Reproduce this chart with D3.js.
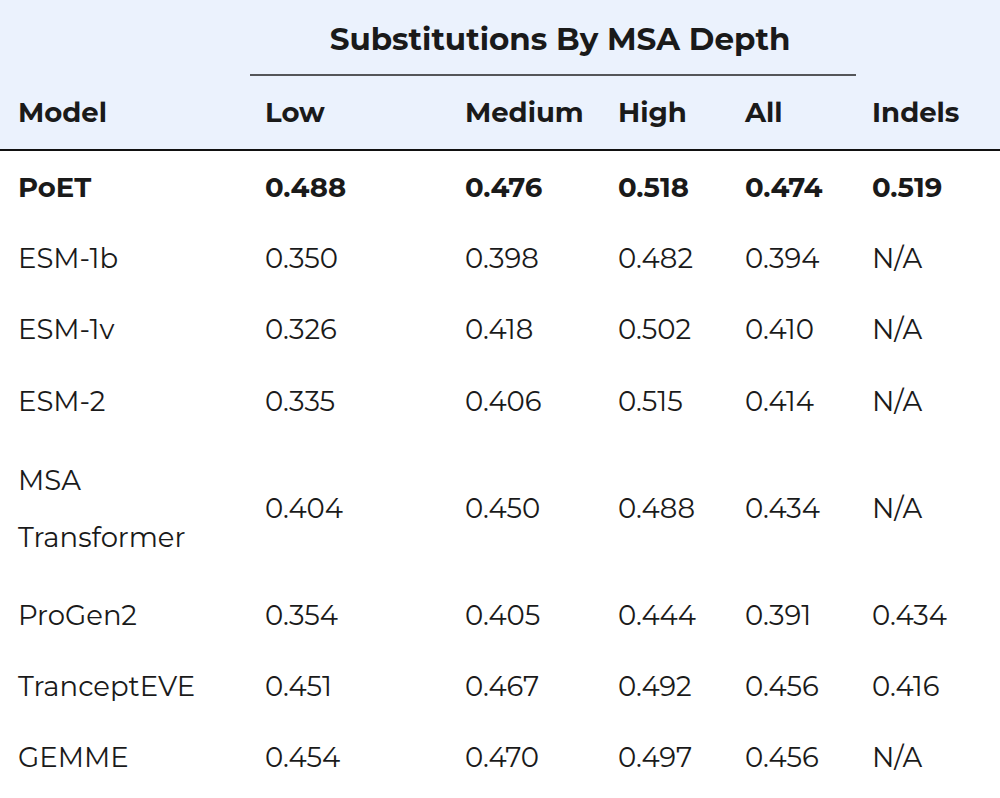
<!DOCTYPE html>
<html><head><meta charset="utf-8">
<script src="https://cdn.jsdelivr.net/npm/d3@7"></script>
<style>body{margin:0;background:#fff}</style></head>
<body><svg id="c" width="1000" height="798"></svg>
<script>
const columns = ["Model","Low","Medium","High","All","Indels"];
const models = ["PoET","ESM-1b","ESM-1v","ESM-2","MSA\nTransformer","ProGen2","TranceptEVE","GEMME"];
const low = ["0.488","0.350","0.326","0.335","0.404","0.354","0.451","0.454"];
const medium = ["0.476","0.398","0.418","0.406","0.450","0.405","0.467","0.470"];
const high = ["0.518","0.482","0.502","0.515","0.488","0.444","0.492","0.497"];
const all = ["0.474","0.394","0.410","0.414","0.434","0.391","0.456","0.456"];
const indels = ["0.519","N/A","N/A","N/A","N/A","0.434","0.416","N/A"];
const groupTitle = "Substitutions By MSA Depth";

const svg = d3.select("#c");
const font = "Montserrat, 'Open Sans', Lato, sans-serif";
const fs = 27.5;
const x = d3.scaleOrdinal().domain(columns).range([18,265,465,618,745,872]);
const rowCenters = [187,258,329,401,508,615,686,757];
const y = d3.scaleOrdinal().domain(models).range(rowCenters);

svg.append("rect").attr("x",0).attr("y",0).attr("width",1000).attr("height",150).attr("fill","#EBF2FD");
svg.append("text").attr("x",560).attr("y",50).attr("text-anchor","middle").attr("font-family",font)
  .attr("font-size",31).attr("font-weight",700).attr("fill","#1a1a1a").text(groupTitle);
svg.append("line").attr("x1",250).attr("x2",856).attr("y1",75).attr("y2",75).attr("stroke","#222").attr("stroke-width",1.5);
svg.selectAll(".h").data(columns).join("text").attr("x",d=>x(d)).attr("y",122)
  .attr("font-family",font).attr("font-size",fs).attr("font-weight",700).attr("fill","#1a1a1a").text(d=>d);
svg.append("line").attr("x1",0).attr("x2",1000).attr("y1",150).attr("y2",150).attr("stroke","#111").attr("stroke-width",2);

const cols = [low,medium,high,all,indels];
models.forEach((m,i)=>{
  const bold = i===0 ? 700 : 400;
  const g = svg.append("g");
  const lines = m.split("\n");
  lines.forEach((l,k)=>{
    g.append("text").attr("x",x("Model")).attr("y",y(m)+10+(k-(lines.length-1)/2)*57)
      .attr("font-family",font).attr("font-size",fs).attr("font-weight",bold).attr("fill","#1a1a1a").text(l);
  });
  cols.forEach((c,j)=>{
    g.append("text").attr("x",x(columns[j+1])).attr("y",y(m)+10)
      .attr("font-family",font).attr("font-size",fs).attr("font-weight",bold).attr("fill","#1a1a1a").text(c[i]);
  });
});
</script></body></html>
